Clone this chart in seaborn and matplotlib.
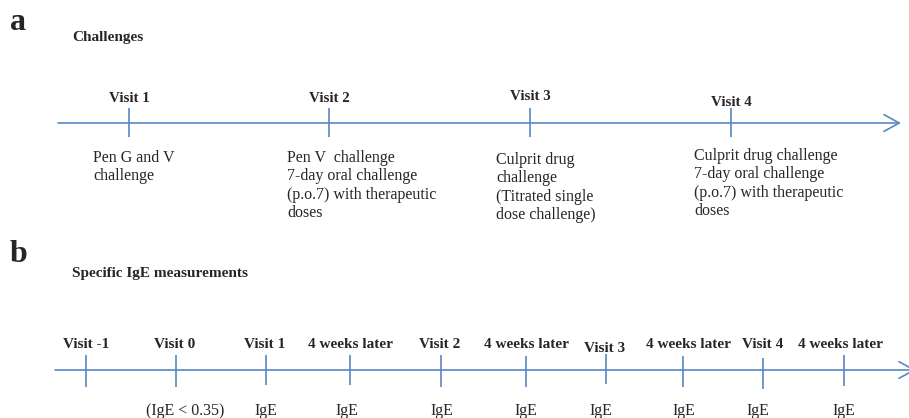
import matplotlib
matplotlib.use("Agg")
import matplotlib.pyplot as plt
import seaborn as sns

# Panel a: challenge visits on the timeline
a_visits = ["Visit 1", "Visit 2", "Visit 3", "Visit 4"]
a_pos = [129, 329, 530, 731]
a_label_y = [99, 99, 97, 102]
a_notes = [
    "Pen G and V\nchallenge",
    "Pen V  challenge\n7-day oral challenge\n(p.o.7) with therapeutic\ndoses",
    "Culprit drug\nchallenge\n(Titrated single\ndose challenge)",
    "Culprit drug challenge\n7-day oral challenge\n(p.o.7) with therapeutic\ndoses",
]
a_note_x = [93, 287, 496, 694]
a_note_y = [150, 150, 152, 148]

# Panel b: IgE measurement points
b_visits = ["Visit -1", "Visit 0", "Visit 1", "4 weeks later", "Visit 2",
            "4 weeks later", "Visit 3", "4 weeks later", "Visit 4", "4 weeks later"]
b_pos = [86, 176, 266, 350, 441, 526, 606, 683, 763, 844]
b_label_x = [86, 175, 265, 350, 440, 527, 605, 688, 763, 841]
b_label_y = [345, 345, 345, 345, 345, 345, 348, 345, 345, 345]
b_notes = ["", "(IgE < 0.35)", "IgE", "IgE", "IgE", "IgE", "IgE", "IgE", "IgE", "IgE"]
b_note_x = [86, 185, 266, 347, 442, 526, 601, 684, 758, 844]
b_tick_top = [355, 355, 355, 355, 355, 356, 354, 356, 358, 355]
b_tick_bot = [387, 387, 385, 385, 387, 387, 384, 387, 389, 386]

sns.set_theme(style="white")
plt.rcParams["font.family"] = ["Liberation Serif", "DejaVu Serif"]

blue = "#5588C6"
fig = plt.figure(figsize=(9.09, 4.18), dpi=100)
ax = fig.add_axes([0, 0, 1, 1])
ax.set_xlim(0, 909)
ax.set_ylim(418, 0)
ax.axis("off")

arrow = dict(arrowstyle="->,head_length=0.55,head_width=0.3",
             color=blue, lw=1.2, mutation_scale=20, shrinkA=0, shrinkB=0)

# panel a
ax.text(10, 23, "a", fontsize=23, fontweight="bold", va="center", ha="left")
ax.text(72, 38, "Challenges", fontsize=11, fontweight="bold", va="center", ha="left")
ax.annotate("", xy=(901, 123), xytext=(58, 123), arrowprops=arrow,
            annotation_clip=False)
ax.vlines(a_pos, 108, 137, color=blue, lw=1.2)
for x, lab, ly in zip(a_pos, a_visits, a_label_y):
    ax.text(x, ly, lab, fontsize=10.8, fontweight="bold", ha="center", va="center")
for x, y, note in zip(a_note_x, a_note_y, a_notes):
    ax.text(x, y, note, fontsize=11.5, ha="left", va="top", linespacing=1.2)

# panel b
ax.text(10, 255, "b", fontsize=23, fontweight="bold", va="center", ha="left")
ax.text(72, 274, "Specific IgE measurements", fontsize=11, fontweight="bold",
        va="center", ha="left")
ax.annotate("", xy=(916, 370), xytext=(55, 370), arrowprops=arrow,
            annotation_clip=False)
ax.vlines(b_pos, b_tick_top, b_tick_bot, color=blue, lw=1.2)
for x, lab, ly in zip(b_label_x, b_visits, b_label_y):
    ax.text(x, ly, lab, fontsize=11, fontweight="bold", ha="center", va="center")
for x, note in zip(b_note_x, b_notes):
    ax.text(x, 411, note, fontsize=11.5, ha="center", va="center")

fig.savefig("out.png", dpi=100)
